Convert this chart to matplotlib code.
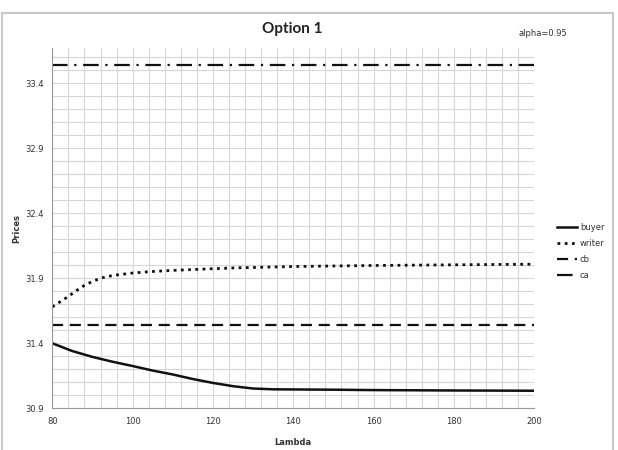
import numpy as np
import matplotlib
matplotlib.use("Agg")
import matplotlib.pyplot as plt
from matplotlib.patches import Rectangle

# values
lam_buyer = [80, 85, 90, 95, 100, 105, 110, 115, 120, 125, 130, 135, 140, 150, 160, 180, 200]
buyer = [31.40, 31.34, 31.295, 31.258, 31.225, 31.19, 31.16, 31.125, 31.095, 31.07, 31.052,
         31.046, 31.045, 31.043, 31.04, 31.037, 31.035]

lam_writer = [80, 82, 84, 86, 88, 90, 92, 94, 96, 100, 104, 108, 112, 116, 120, 126, 140, 160, 180, 200]
writer = [31.68, 31.72, 31.76, 31.805, 31.845, 31.875, 31.90, 31.915, 31.925, 31.94, 31.95,
          31.957, 31.963, 31.968, 31.973, 31.98, 31.99, 31.998, 32.003, 32.008]

cb = 31.543
ca = 33.54

x_ticks = [80, 100, 120, 140, 160, 180, 200]
y_ticks = [30.9, 31.4, 31.9, 32.4, 32.9, 33.4]

fig = plt.figure(figsize=(6.18, 4.5), dpi=100)
ax = fig.add_axes([52.3 / 618, 1 - 408.3 / 450, 482 / 618, 360.3 / 450])

# outer chart frame
fig.patches.append(Rectangle((2 / 618, -0.05), 611 / 618, 1 - 13 / 450 + 0.05,
                             transform=fig.transFigure, fill=False,
                             edgecolor='#c8c8c8', lw=1.5))

ax.plot(lam_buyer, buyer, color='#111111', lw=1.8, label='buyer')
ax.plot(lam_writer, writer, color='#111111', lw=2, linestyle=(0, (1, 1.6)), label='writer')
ax.plot([80, 200], [cb, cb], color='#111111', lw=1.6, linestyle=(0, (5, 3)), label='cb')
ax.plot([80, 200], [ca, ca], color='#111111', lw=1.6, linestyle=(0, (7, 3, 1, 3)), label='ca')

ax.set_xlim(80, 200)
ax.set_ylim(30.9, 33.67)
ax.set_xticks(x_ticks)
ax.set_yticks(y_ticks)
ax.set_yticklabels(['%.1f' % v for v in y_ticks])
ax.set_xticks(np.arange(80, 201, 4), minor=True)
ax.set_yticks(np.arange(30.9, 33.65, 0.1), minor=True)
ax.grid(True, which='both', color='#d6d6d6', lw=0.8)
ax.set_axisbelow(True)
ax.tick_params(which='both', length=0, labelsize=6, colors='#333333', pad=6)

for s in ['top', 'right']:
    ax.spines[s].set_visible(False)
ax.spines['left'].set_color('#999999')
ax.spines['bottom'].set_color('#999999')

ax.set_xlabel('Lambda', fontsize=6, fontweight='bold', color='#333333', labelpad=9)
fig.text(17 / 618, 1 - 228 / 450, 'Prices', rotation=90, ha='center', va='center',
         fontsize=6, fontweight='bold', color='#333333')

fig.text(292 / 618, 1 - 29 / 450, 'Option 1', ha='center', va='center',
         fontsize=11, fontweight='bold', family='Lato', color='#222222')
fig.text(543 / 618, 1 - 33 / 450, 'alpha=0.95', ha='center', va='center',
         fontsize=6, color='#333333')

ax.legend(loc='upper left', bbox_to_anchor=(549 / 618, 1 - 215 / 450),
          bbox_transform=fig.transFigure, frameon=False, fontsize=6,
          handlelength=2.5, labelspacing=0.85, handletextpad=0.3,
          labelcolor='#333333')

fig.savefig('out.png', dpi=100)
